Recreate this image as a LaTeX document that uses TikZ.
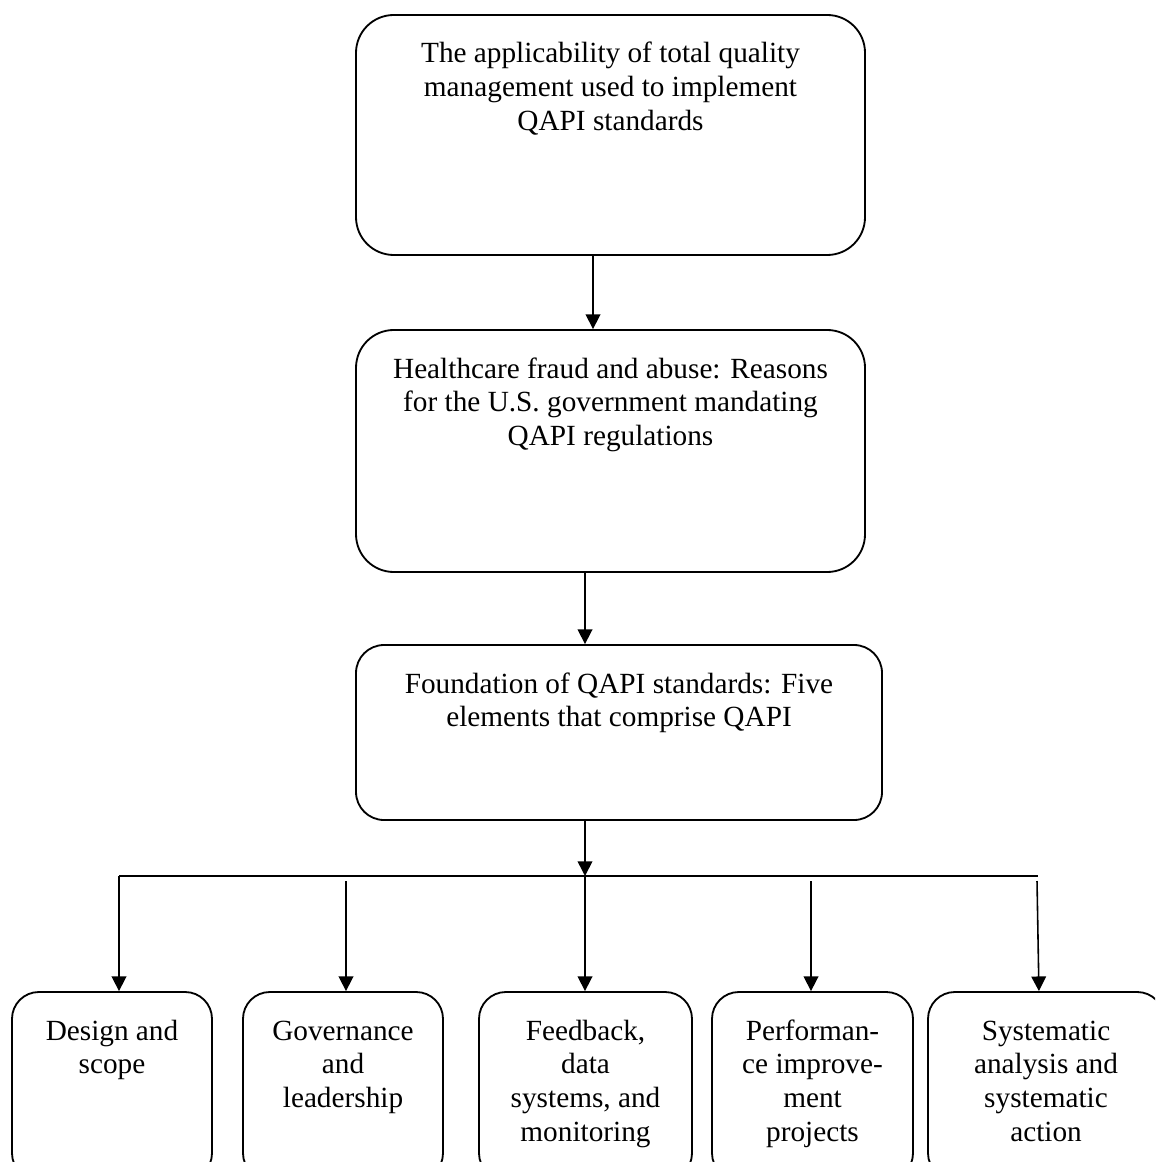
\documentclass[tikz,border=0pt]{standalone}
\usepackage{fontspec}
\setmainfont{Liberation Serif}
\usetikzlibrary{arrows.meta}
\newlength{\PixUnit}
\setlength{\PixUnit}{0.41pt}
\newcommand{\BoxText}[3]{\parbox[c][#1\PixUnit][t]{#2\PixUnit}{\centering\rule{0pt}{48\PixUnit}#3}}

\begin{document}
\begin{tikzpicture}[x=0.41pt,y=-0.41pt,
  stagebox/.style={draw,line width=0.75pt,inner sep=0pt,rounded corners=#1,font=\fontsize{12}{13.9}\selectfont},
  stagebox/.default=11pt,
  flow/.style={line width=0.65pt,-{Triangle[length=6pt,width=6pt]}}]
\useasboundingbox (0,0) rectangle (1155,1162);
\clip (0,0) rectangle (1155,1162);

\node[stagebox=15.5pt] (tqm) at (610.5,135) {\BoxText{240}{509}{The applicability of total quality\\management used to implement\\QAPI standards}};
\node[stagebox=15.5pt] (fraud) at (610.5,451) {\BoxText{242}{509}{Healthcare fraud and abuse: Reasons\\for the U.S. government mandating\\QAPI regulations}};
\node[stagebox=11.5pt] (found) at (619,732.5) {\BoxText{175}{526}{Foundation of QAPI standards: Five\\elements that comprise QAPI}};

\node[stagebox] (design) at (112,1086) {\BoxText{188}{200}{Design and\\scope}};
\node[stagebox] (govern) at (343,1086) {\BoxText{188}{200}{Governance\\and\\leadership}};
\node[stagebox] (feedback) at (585.5,1086) {\BoxText{188}{213}{Feedback,\\data\\systems, and\\monitoring}};
\node[stagebox] (perform) at (812.5,1086) {\BoxText{188}{201}{Performan-\\ce improve-\\ment\\projects}};
\node[stagebox] (systematic) at (1046,1086) {\BoxText{188}{236}{Systematic\\analysis and\\systematic\\action}};

\coordinate (colTop) at (593,0);
\coordinate (colMid) at (585,0);
\coordinate (dropA) at (119,876);
\coordinate (dropB) at (346,881);
\coordinate (dropC) at (585,876);
\coordinate (dropD) at (811,881);
\coordinate (dropE) at (1037,881);
\coordinate (barEnd) at (1038,876);

\draw[flow] (tqm.south -| colTop) -- (fraud.north -| colTop);
\draw[flow] (fraud.south -| colMid) -- (found.north -| colMid);
\draw[flow] (found.south -| colMid) -- (dropC);
\draw[line width=1pt] (dropA) -- (barEnd);
\foreach \d/\b in {dropA/design,dropB/govern,dropC/feedback,dropD/perform}
  \draw[flow] (\d) -- (\d |- \b.north);
\draw[flow] (dropE) -- ([xshift=-2.9pt]systematic.north);
\end{tikzpicture}
\end{document}
